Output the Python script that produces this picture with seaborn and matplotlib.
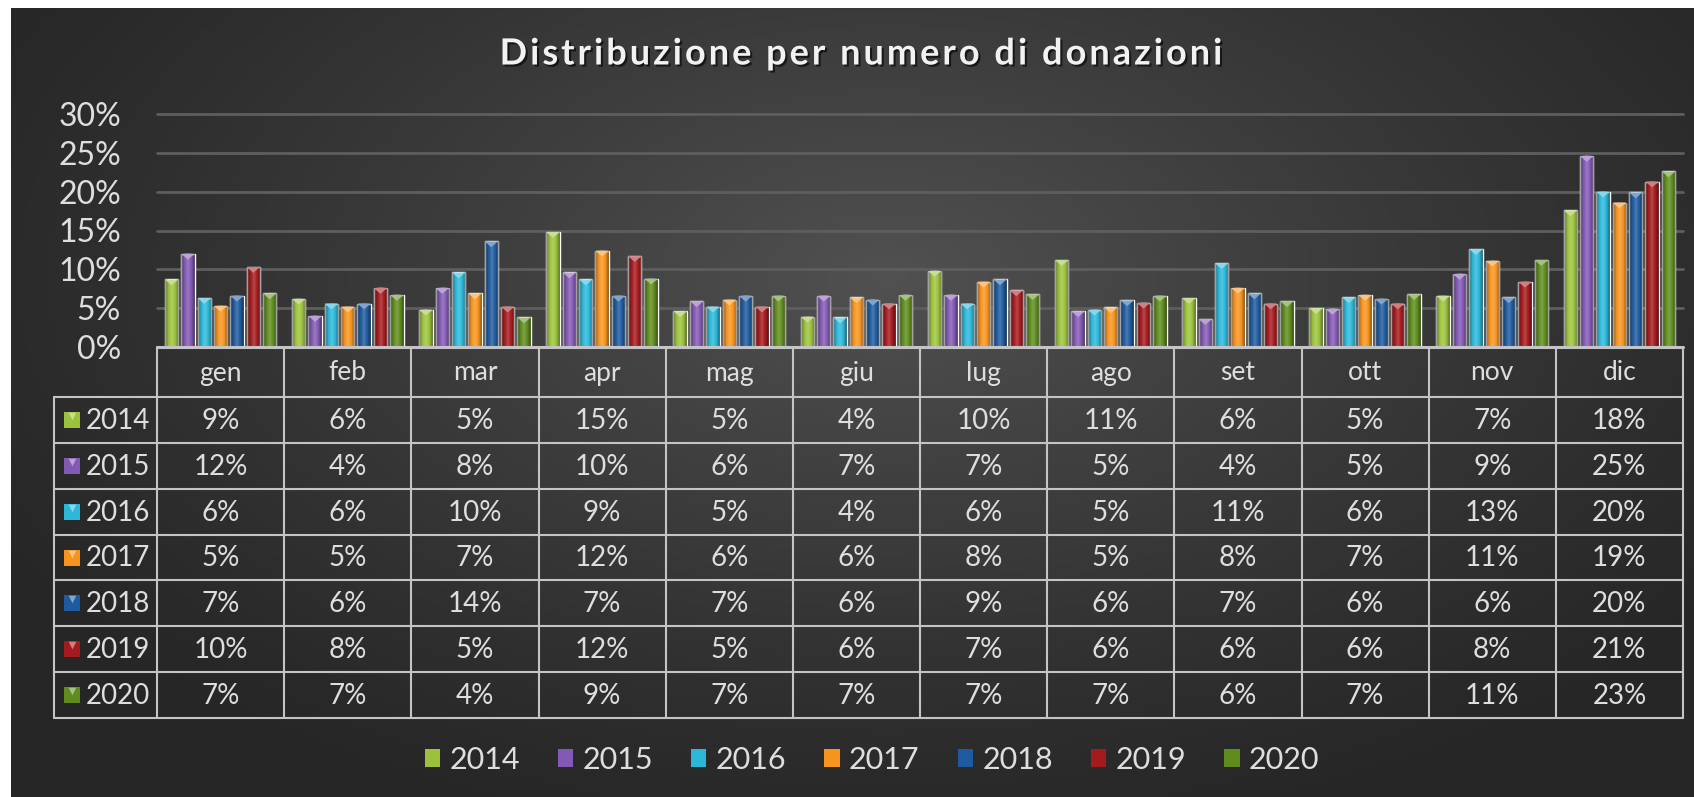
import numpy as np
import pandas as pd
import matplotlib
matplotlib.use("Agg")
import matplotlib.pyplot as plt
import matplotlib.colors as mcolors
import seaborn as sns
from matplotlib.patches import Polygon, Patch
from matplotlib import patheffects

# data (percent)
months = ["gen", "feb", "mar", "apr", "mag", "giu", "lug", "ago", "set", "ott", "nov", "dic"]
years = ["2014", "2015", "2016", "2017", "2018", "2019", "2020"]
colors = ["#9cc23d", "#8259b3", "#2cb7d9", "#f7941e", "#1f5a9e", "#a31b1f", "#5f8c1d"]

v2014 = [8.7, 6.2, 4.8, 14.8, 4.6, 3.9, 9.8, 11.2, 6.3, 5.0, 6.6, 17.6]
v2015 = [12.0, 4.0, 7.6, 9.6, 5.9, 6.6, 6.7, 4.6, 3.6, 4.9, 9.4, 24.6]
v2016 = [6.3, 5.6, 9.6, 8.7, 5.2, 3.8, 5.6, 4.8, 10.8, 6.4, 12.6, 20.0]
v2017 = [5.3, 5.2, 6.9, 12.4, 6.1, 6.4, 8.4, 5.1, 7.6, 6.7, 11.1, 18.6]
v2018 = [6.6, 5.6, 13.6, 6.6, 6.6, 6.1, 8.7, 6.0, 6.9, 6.2, 6.4, 19.9]
v2019 = [10.3, 7.6, 5.2, 11.7, 5.2, 5.6, 7.3, 5.7, 5.6, 5.6, 8.4, 21.3]
v2020 = [6.9, 6.7, 3.8, 8.8, 6.6, 6.7, 6.8, 6.6, 5.9, 6.8, 11.2, 22.6]
series = [v2014, v2015, v2016, v2017, v2018, v2019, v2020]

yticks = [0, 5, 10, 15, 20, 25, 30]
title = "Distribuzione per numero di donazioni"

W, H = 1694, 797
TXT = "#dedede"
LINE = "#c4c4c4"

sns.set_style("dark")
plt.rcParams["font.family"] = ["Lato", "DejaVu Sans"]

df = pd.DataFrame({
    "mese": np.tile(months, len(years)),
    "anno": np.repeat(years, len(months)),
    "valore": np.concatenate(series),
})

fig = plt.figure(figsize=(W / 100, H / 100), dpi=100, facecolor="white")

# dark radial background (white strip on left / top like the screenshot)
bg = fig.add_axes([11 / W, 0, 1 - 11 / W, 1 - 8 / H])
bg.set_axis_off()
gx, gy = np.meshgrid(np.linspace(0, 1, 400), np.linspace(0, 1, 200))
r = np.sqrt(((gx - 0.52) / 0.62) ** 2 + ((gy - 0.34) / 0.75) ** 2)
shade = np.clip(1 - r, 0, 1) ** 1.2
c0 = np.array(mcolors.to_rgb("#262626"))
c1 = np.array(mcolors.to_rgb("#515151"))
img = c0 + (c1 - c0) * shade[..., None]
bg.imshow(img, aspect="auto", extent=[0, 1, 0, 1], origin="upper")

# bar chart
ax = fig.add_axes([157 / W, 1 - 347 / H, (1683 - 157) / W, (347 - 114) / H])
ax.set_facecolor("none")
sns.barplot(data=df, x="mese", y="valore", hue="anno", palette=colors,
            width=0.9, gap=0.18, legend=False, ax=ax, saturation=1)

for p in ax.patches:
    x0, w, h = p.get_x(), p.get_width(), p.get_height()
    if h <= 0:
        continue
    # rounded/bevelled look: dark edges, light middle
    t = np.linspace(-1, 1, 40)
    s = 1 - np.abs(t)
    ov = np.zeros((1, 40, 4))
    light = s > 0.55
    ov[0, light, :3] = 1.0
    ov[0, light, 3] = (s[light] - 0.55) * 0.45
    ov[0, ~light, 3] = (0.55 - s[~light]) * 0.75
    ax.imshow(ov, extent=[x0, x0 + w, 0, h], aspect="auto", zorder=3,
              interpolation="bilinear")
    fc = np.array(p.get_facecolor()[:3])
    cap = fc + (1 - fc) * 0.45
    ax.add_patch(Polygon([(x0, h), (x0 + w, h), (x0 + w / 2, h - 0.75)],
                         closed=True, facecolor=cap, edgecolor="none", zorder=4))

ax.set_xlim(-0.5, 11.5)
ax.set_ylim(0, 30)
ax.set_yticks(yticks)
ax.set_yticklabels([f"{t}%" for t in yticks])
ax.tick_params(axis="y", length=0, pad=26, labelsize=23, labelcolor=TXT)
ax.tick_params(axis="x", length=0, labelbottom=False)
ax.set_xlabel("")
ax.set_ylabel("")
ax.set_axisbelow(True)
ax.grid(axis="y", color="#5e5e5e", linewidth=2)
ax.grid(axis="x", visible=False)
for sp in ax.spines.values():
    sp.set_visible(False)
for gl in ax.get_ygridlines():
    gl.set_clip_on(False)

# data table under the chart
tab = fig.add_axes([54 / W, 1 - 718 / H, (1683 - 54) / W, (718 - 347) / H])
tab.set_axis_off()
col_w = (1683 - 157) / 12
left = -0.5 - (157 - 54) / col_w
tab.set_xlim(left, 11.5)
tab.set_ylim(371, 0)
hdr_h = 50
row_h = (371 - hdr_h) / len(years)

tab.plot([-0.5, 11.5], [0, 0], color=LINE, lw=2.2, clip_on=False)
for k in range(len(years) + 1):
    yy = hdr_h + k * row_h
    tab.plot([left, 11.5], [yy, yy], color=LINE, lw=1.5, clip_on=False)
tab.plot([left, left], [hdr_h, 371], color=LINE, lw=1.5, clip_on=False)
for i in range(13):
    tab.plot([i - 0.5, i - 0.5], [0, 371], color=LINE, lw=1.5, clip_on=False)

for i, m in enumerate(months):
    tab.text(i, hdr_h / 2 + 1, m, ha="center", va="center", fontsize=19, color=TXT)

for k, (yr, vals, col) in enumerate(zip(years, series, colors)):
    yc = hdr_h + (k + 0.5) * row_h
    tab.scatter([left + (72 - 54) / col_w], [yc], marker="s", s=125, color=col,
                linewidths=0, zorder=3)
    tab.scatter([left + (72 - 54) / col_w], [yc - 4], marker="v", s=30,
                color=np.array(mcolors.to_rgb(col)) * 0.55 + 0.45, linewidths=0, zorder=4)
    tab.text(left + (86 - 54) / col_w, yc + 1, yr, ha="left", va="center",
             fontsize=20, color=TXT)
    for i, v in enumerate(vals):
        tab.text(i, yc + 1, f"{int(round(v))}%", ha="center", va="center",
                 fontsize=20, color=TXT)

# title, with the wide letter spacing of the original
renderer = fig.canvas.get_renderer()
tkw = dict(fontsize=26, fontweight="bold", color="#f2f2f2", va="center", ha="left",
           path_effects=[patheffects.withSimplePatchShadow(offset=(1.5, -1.5),
                                                           shadow_rgbFace="black", alpha=0.6)])
probe = fig.text(0, 0, "", **tkw)
adv = []
for i in range(len(title)):
    probe.set_text(title[:i].replace(" ", "\u00a0") + "|")
    w_with = probe.get_window_extent(renderer).width
    probe.set_text("|")
    adv.append(w_with - probe.get_window_extent(renderer).width)
probe.set_text(title.replace(" ", "\u00a0"))
full_w = probe.get_window_extent(renderer).width
probe.remove()
spacing = 3.0
total = full_w + spacing * (len(title) - 1)
x_start = 861 - total / 2
for i, ch in enumerate(title):
    if ch == " ":
        continue
    fig.text((x_start + adv[i] + spacing * i) / W, 1 - 54 / H, ch, **tkw)

# legend
handles = [Patch(facecolor=c, edgecolor="none") for c in colors]
fig.legend(handles, years, loc="center", bbox_to_anchor=(872 / W, 1 - 760 / H),
           ncol=7, frameon=False, fontsize=22, labelcolor=TXT,
           handlelength=0.5, handleheight=0.5, handletextpad=0.3, columnspacing=1.25)

fig.savefig("out.png", dpi=100, facecolor="white")
